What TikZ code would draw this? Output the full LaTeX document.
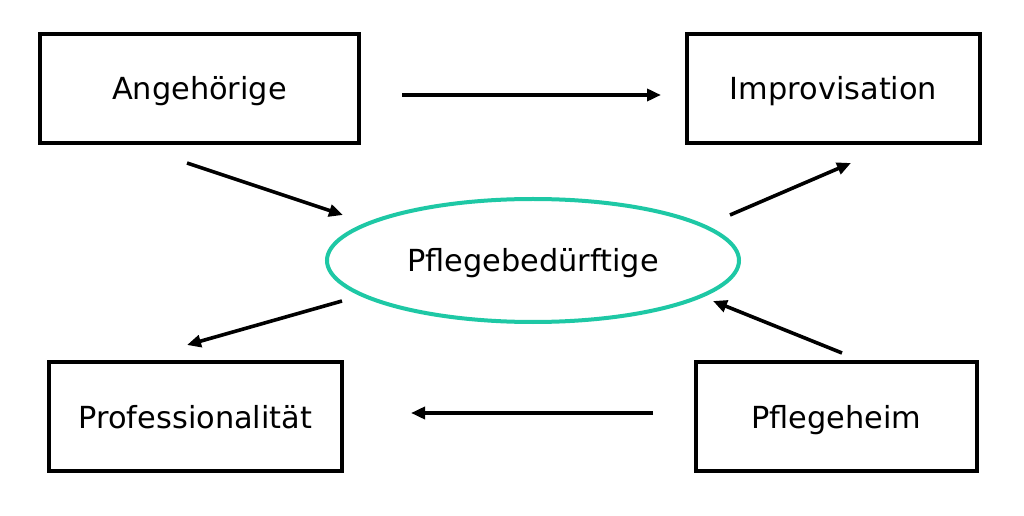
\documentclass[tikz,border=0pt]{standalone}
\usepackage{fontspec}
\setmainfont{DejaVu Sans}
\usetikzlibrary{arrows.meta,shapes.geometric}
\definecolor{teal1}{RGB}{30,200,165}
\tikzset{
  txt/.style={text height=23bp, text depth=0pt, font=\fontsize{30.5}{34}\selectfont},
  boxnode/.style={draw=black, line width=3.8bp, rectangle, minimum height=109bp, inner sep=0pt, txt},
  ellnode/.style={draw=teal1, line width=4bp, ellipse, minimum width=412bp, minimum height=123bp, inner sep=0pt, txt},
  conn/.style={line width=3.6bp, -{Triangle[length=14bp,width=12bp]}}
}
\begin{document}
\begin{tikzpicture}[x=1bp,y=-1bp]
\useasboundingbox (0,0) rectangle (1024,516);
\fill[white] (0,0) rectangle (1024,516);
\node[boxnode, minimum width=319bp] (ang) at (199.5,88.5) {Angehörige};
\node[boxnode, minimum width=293bp] (imp) at (833.5,88.5) {Improvisation};
\node[boxnode, minimum width=293bp] (pro) at (195.5,416.5) {Professionalität};
\node[boxnode, minimum width=281bp] (heim) at (836.5,416.5) {Pflegeheim};
\node[ellnode] (pfl) at (533,260.5) {Pflegebedürftige};
% connector end points
\coordinate (angE) at (402,95);
\coordinate (impW) at (661,95);
\coordinate (heimW) at (653,413);
\coordinate (proE) at (411,413);
\coordinate (angS) at (187,163);
\coordinate (pflNW) at (343,215);
\coordinate (pflNE) at (730,215);
\coordinate (impS) at (851,163);
\coordinate (pflSW) at (342,301);
\coordinate (proN) at (187,345);
\coordinate (heimN) at (842,353);
\coordinate (pflSE) at (713,301);
\draw[conn] (angE) -- (impW);
\draw[conn] (heimW) -- (proE);
\draw[conn] (angS) -- (pflNW);
\draw[conn] (pflNE) -- (impS);
\draw[conn] (pflSW) -- (proN);
\draw[conn] (heimN) -- (pflSE);
\end{tikzpicture}
\end{document}
